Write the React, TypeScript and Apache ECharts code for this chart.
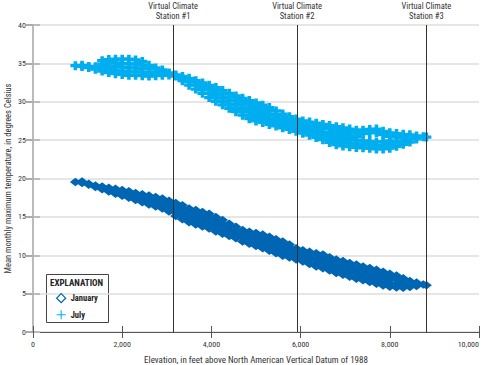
import React, { useEffect, useRef } from "react";
import * as echarts from "echarts";

// Tick labels / axis extents
const xTicks = [0, 2000, 4000, 6000, 8000, 10000];
const yTicks = [0, 5, 10, 15, 20, 25, 30, 35, 40];

// Virtual climate stations (elevation, ft)
const stations = [3140, 5920, 8820];
const stationLabels = ["Virtual Climate\nStation #1", "Virtual Climate\nStation #2", "Virtual Climate\nStation #3"];

// Column elevations (ft) sampled across the point clouds
const elevations = [
  950, 1100, 1250, 1400, 1550, 1700, 1850, 2000, 2150, 2300, 2450, 2600, 2750, 2900, 3050, 3200,
  3350, 3500, 3650, 3800, 3950, 4100, 4250, 4400, 4550, 4700, 4850, 5000, 5150, 5300, 5450, 5600,
  5750, 5900, 6050, 6200, 6350, 6500, 6650, 6800, 6950, 7100, 7250, 7400, 7550, 7700, 7850, 8000,
  8150, 8300, 8450, 8600, 8750, 8820,
];

// January mean monthly maximum temperature (deg C) read at each elevation column
const januaryTemps = [
  [19.55], [19.4, 19.6], [19.2, 19.3], [18.9, 19.1], [18.6, 18.95], [18.3, 18.8],
  [18.0, 18.35, 18.65], [17.75, 18.1, 18.5], [17.5, 17.9, 18.35], [17.2, 17.65, 18.1],
  [16.9, 17.4, 17.95], [16.6, 17.0, 17.4, 17.8], [16.35, 16.8, 17.2, 17.6], [16.1, 16.55, 17.0, 17.4],
  [15.7, 16.15, 16.6, 17.1], [15.1, 15.55, 16.0, 16.4, 16.8], [14.7, 15.15, 15.6, 16.05, 16.5],
  [14.3, 14.75, 15.2, 15.65, 16.1], [14.0, 14.5, 14.95, 15.45, 15.9], [13.75, 14.2, 14.7, 15.2, 15.65],
  [13.5, 13.95, 14.45, 14.95, 15.4], [13.1, 13.55, 14.05, 14.5, 15.0], [12.8, 13.25, 13.7, 14.15, 14.6],
  [12.5, 12.9, 13.3, 13.7, 14.1], [12.2, 12.7, 13.2, 13.7], [11.8, 12.3, 12.8, 13.3],
  [11.5, 12.0, 12.5, 13.05], [11.2, 11.65, 12.1, 12.5, 12.9], [10.9, 11.35, 11.8, 12.25, 12.7],
  [10.6, 11.05, 11.5, 11.95, 12.4], [10.25, 10.7, 11.15, 11.6, 12.1], [9.95, 10.4, 10.85, 11.3, 11.8],
  [9.7, 10.15, 10.6, 11.0, 11.4], [9.45, 9.95, 10.45, 10.9], [9.2, 9.7, 10.2, 10.65],
  [8.85, 9.4, 9.9, 10.45], [8.55, 9.0, 9.4, 9.8, 10.25], [8.3, 8.75, 9.2, 9.65, 10.1],
  [8.0, 8.45, 8.9, 9.3, 9.75], [7.7, 8.15, 8.6, 9.0, 9.45], [7.45, 7.9, 8.35, 8.8, 9.25],
  [7.2, 7.65, 8.1, 8.55, 9.0], [6.95, 7.4, 7.85, 8.3, 8.8], [6.75, 7.2, 7.65, 8.1, 8.55],
  [6.5, 6.95, 7.4, 7.9, 8.35], [6.3, 6.75, 7.2, 7.65, 8.1], [6.05, 6.5, 6.95, 7.4, 7.85],
  [5.9, 6.35, 6.8, 7.2, 7.6], [5.8, 6.3, 6.85, 7.35], [5.75, 6.15, 6.6, 7.0],
  [5.85, 6.25, 6.65], [6.0, 6.45], [6.2], [6.1],
];

// July mean monthly maximum temperature (deg C) read at each elevation column
const julyTemps = [
  [34.7], [34.6, 34.75], [34.45, 34.6], [34.25, 34.55], [34.0, 34.45, 34.9, 35.35],
  [33.8, 34.25, 34.65, 35.1, 35.5], [33.65, 34.1, 34.6, 35.05, 35.55], [33.55, 34.0, 34.5, 35.0, 35.55],
  [33.45, 33.9, 34.4, 34.95, 35.55], [33.45, 33.9, 34.4, 34.9, 35.45], [33.4, 33.85, 34.3, 34.8, 35.25],
  [33.35, 33.8, 34.3, 34.75], [33.4, 33.9, 34.4], [33.45, 33.8, 34.15], [33.5, 33.75], [33.35, 33.5],
  [32.75, 33.05, 33.3], [32.15, 32.6, 33.05], [31.65, 32.2, 32.75], [31.1, 31.55, 32.0, 32.45],
  [30.55, 31.1, 31.6, 32.15], [30.05, 30.5, 30.95, 31.4, 31.85], [29.6, 30.05, 30.5, 31.0, 31.45],
  [29.15, 29.6, 30.1, 30.6, 31.1], [28.7, 29.2, 29.7, 30.2, 30.75], [28.25, 28.7, 29.15, 29.6, 30.05, 30.45],
  [27.8, 28.25, 28.75, 29.2, 29.7, 30.15], [27.5, 27.95, 28.4, 28.9, 29.35, 29.85],
  [27.3, 27.75, 28.2, 28.65, 29.1, 29.55], [27.05, 27.5, 27.95, 28.4, 28.85, 29.25],
  [26.85, 27.3, 27.8, 28.3, 28.8], [26.6, 27.05, 27.5, 27.95, 28.4], [26.4, 26.8, 27.25, 27.65, 28.05],
  [26.15, 26.55, 26.95, 27.35, 27.75], [25.9, 26.3, 26.7, 27.1, 27.5], [25.65, 26.1, 26.5, 26.95, 27.35],
  [25.35, 25.8, 26.25, 26.75, 27.2], [25.05, 25.5, 26.0, 26.55, 27.05],
  [24.7, 25.15, 25.6, 26.0, 26.45, 26.9], [24.4, 24.85, 25.35, 25.8, 26.3, 26.75],
  [24.25, 24.7, 25.2, 25.65, 26.1, 26.6], [24.15, 24.6, 25.05, 25.55, 26.0, 26.45],
  [24.05, 24.5, 25.0, 25.45, 25.9, 26.3], [24.0, 24.45, 24.9, 25.85, 26.3], [23.95, 24.4, 24.85, 25.95, 26.4],
  [23.85, 24.3, 24.75, 26.0, 26.45], [23.85, 24.3, 24.8, 25.7, 26.15], [23.95, 24.4, 24.9, 25.5, 25.95],
  [24.2, 24.65, 25.4, 25.85], [24.45, 24.9, 25.35, 25.75], [24.75, 25.2, 25.7], [25.15, 25.55], [25.45], [25.4],
];

const FONT =
  "'Roboto Condensed', 'Open Sans Condensed', 'Noto Sans Condensed', 'Liberation Sans Narrow', 'DejaVu Sans Condensed', sans-serif";
const JAN_COLOR = "#0066b3";
const JUL_COLOR = "#00aeef";
const PLUS_THICK = "path://M3.2,0H6.8V3.2H10V6.8H6.8V10H3.2V6.8H0V3.2H3.2Z";
const PLUS_THIN = "path://M4.4,0H5.6V4.4H10V5.6H5.6V10H4.4V5.6H0V4.4H4.4Z";

function toPoints(temps: number[][]): number[][] {
  const pts: number[][] = [];
  elevations.forEach((e, i) => {
    (temps[i] || []).forEach((t) => pts.push([e, t]));
  });
  return pts;
}

export default function App() {
  const ref = useRef<HTMLDivElement>(null);

  useEffect(() => {
    document.body.style.margin = "0";
    if (!ref.current) return;
    const chart = echarts.init(ref.current, null, { renderer: "svg" });

    const axisLabelStyle = { fontFamily: FONT, fontSize: 8, color: "#333" };

    chart.setOption({
      animation: false,
      backgroundColor: "#ffffff",
      textStyle: { fontFamily: FONT },
      grid: { left: 33, right: 10, top: 25, bottom: 33, containLabel: false, outerBoundsMode: "none" },
      xAxis: [
        {
          type: "value",
          min: xTicks[0],
          max: xTicks[xTicks.length - 1],
          interval: 2000,
          name: "Elevation, in feet above North American Vertical Datum of 1988",
          nameLocation: "middle",
          nameGap: 23,
          nameMoveOverlap: false,
          nameTextStyle: { fontFamily: FONT, fontSize: 9, color: "#333" },
          axisLine: { show: true, lineStyle: { color: "#555", width: 1 } },
          axisTick: { show: true, inside: true, length: 6, lineStyle: { color: "#555" } },
          axisLabel: {
            ...axisLabelStyle,
            margin: 8,
            alignMaxLabel: "right",
            formatter: (v: number) => v.toLocaleString("en-US"),
          },
          splitLine: { show: false },
        },
        {
          type: "value",
          position: "top",
          min: xTicks[0],
          max: xTicks[xTicks.length - 1],
          interval: 2000,
          axisLine: { show: false },
          axisTick: { show: true, inside: true, length: 6, lineStyle: { color: "#555" } },
          axisLabel: { show: false },
          splitLine: { show: false },
        },
      ],
      yAxis: [
        {
          type: "value",
          min: yTicks[0],
          max: yTicks[yTicks.length - 1],
          interval: 5,
          name: "Mean monthly maximum temperature, in degrees Celsius",
          nameLocation: "middle",
          nameGap: 21,
          nameMoveOverlap: false,
          nameTextStyle: { fontFamily: FONT, fontSize: 8.5, color: "#333" },
          axisLine: { show: true, lineStyle: { color: "#aaa", width: 2 } },
          axisTick: { show: true, inside: true, length: 7, lineStyle: { color: "#bbb", width: 2 } },
          axisLabel: { ...axisLabelStyle, margin: 7 },
          splitLine: { show: true, lineStyle: { color: "#dedede", width: 1.5 } },
        },
        {
          type: "value",
          position: "right",
          min: yTicks[0],
          max: yTicks[yTicks.length - 1],
          interval: 5,
          axisLine: { show: true, lineStyle: { color: "#bbb", width: 2 } },
          axisTick: { show: true, inside: true, length: 7, lineStyle: { color: "#aaa", width: 2 } },
          axisLabel: { show: false },
          splitLine: { show: false },
        },
      ],
      legend: {
        orient: "vertical",
        left: 51,
        top: 288,
        itemGap: 7,
        itemWidth: 9,
        itemHeight: 9,
        z: 20,
        textStyle: { fontFamily: FONT, fontSize: 8.5, fontWeight: "bold", color: "#222" },
        data: [
          {
            name: "January",
            icon: "diamond",
            itemStyle: { color: "#ffffff", borderColor: JAN_COLOR, borderWidth: 1.3 },
          },
          {
            name: "July",
            icon: PLUS_THIN,
            itemStyle: { color: JUL_COLOR, borderWidth: 0 },
          },
        ],
      },
      graphic: [
        {
          type: "rect",
          left: 46,
          top: 274,
          shape: { width: 62, height: 48 },
          style: { fill: "#ffffff", stroke: "#444", lineWidth: 1 },
          z: 0,
        },
        {
          type: "text",
          left: 50,
          top: 278,
          style: { text: "EXPLANATION", fontFamily: FONT, fontSize: 9, fontWeight: "bold", fill: "#222" },
          z: 1,
        },
      ],
      series: [
        {
          name: "July",
          type: "scatter",
          symbol: PLUS_THICK,
          symbolSize: [10, 9],
          itemStyle: { color: JUL_COLOR, opacity: 1 },
          data: toPoints(julyTemps),
          z: 2,
        },
        {
          name: "January",
          type: "scatter",
          symbol: "diamond",
          symbolSize: [11, 8.5],
          itemStyle: { color: JAN_COLOR, opacity: 1 },
          data: toPoints(januaryTemps),
          z: 2,
          markLine: {
            silent: true,
            symbol: "none",
            animation: false,
            lineStyle: { color: "#333", width: 1, type: "solid" },
            label: {
              show: true,
              position: "end",
              distance: 4,
              fontFamily: FONT,
              fontSize: 8.5,
              lineHeight: 10,
              color: "#333",
              align: "center",
            },
            data: stations.map((x, i) => ({ xAxis: x, label: { formatter: stationLabels[i] } })),
          },
        },
      ],
    });

    return () => chart.dispose();
  }, []);

  return <div ref={ref} style={{ width: 489, height: 365 }} />;
}
